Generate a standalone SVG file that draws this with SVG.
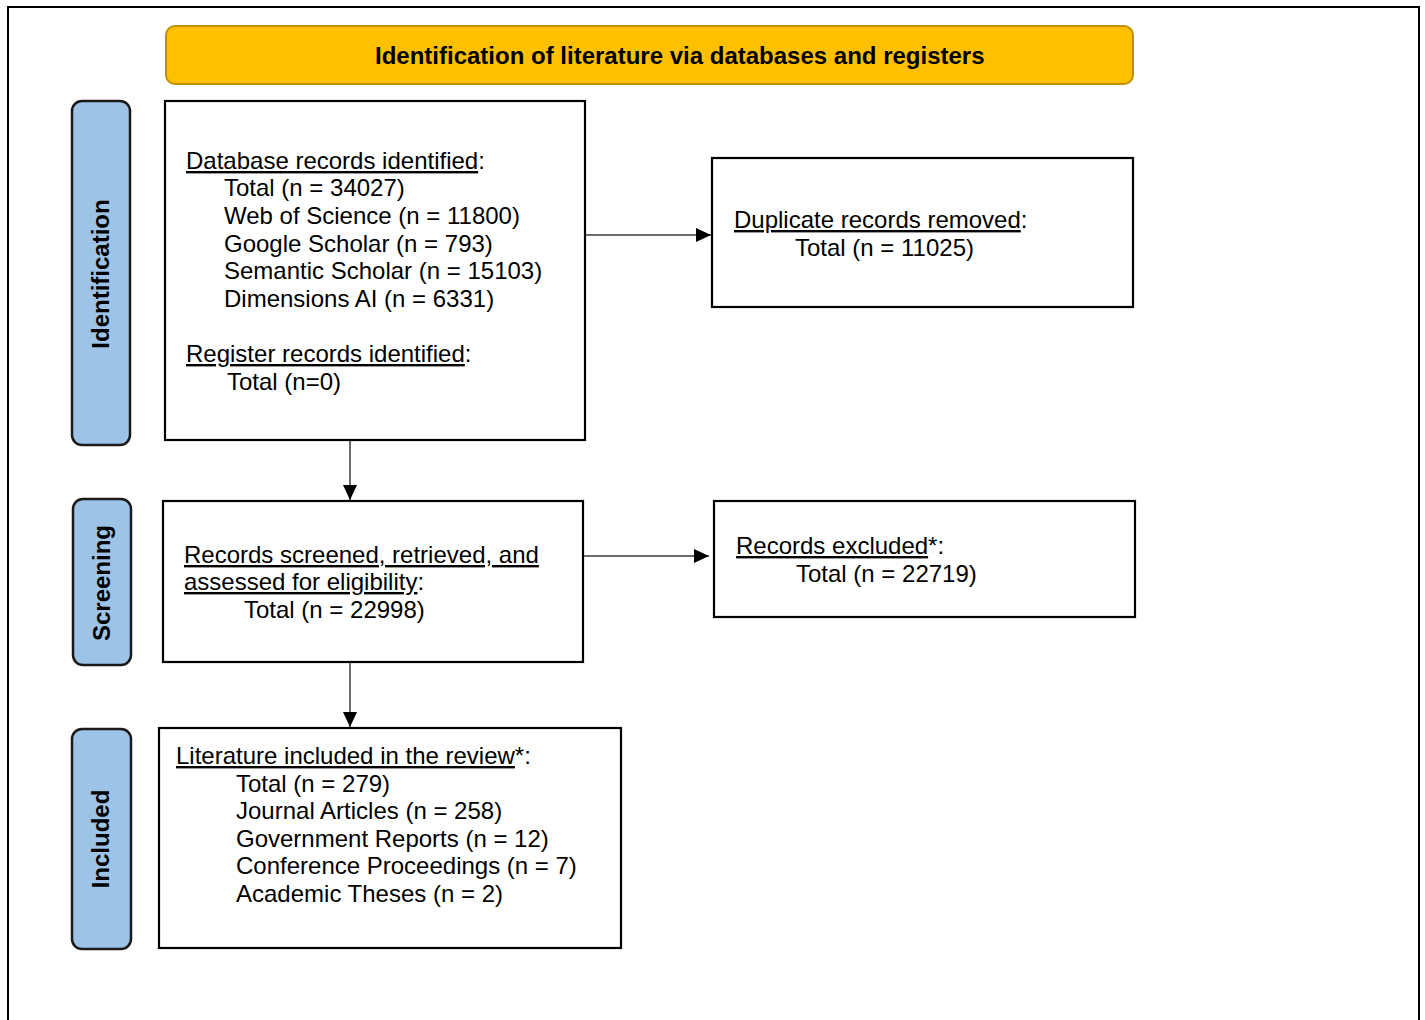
<svg xmlns="http://www.w3.org/2000/svg" width="1425" height="1020" viewBox="0 0 1425 1020">
<defs>
<style>
.t{font-family:"Liberation Sans",Arial,sans-serif;font-size:24px;fill:#000}
.b{font-weight:bold}
.u{text-decoration:underline}
.box{fill:#fff;stroke:#000;stroke-width:2.2}
.lab{fill:#9DC3E6;stroke:#1a1a1a;stroke-width:2.5}
.con{stroke:#3a3a3a;stroke-width:1.5;fill:none;marker-end:url(#ah)}
</style>
<marker id="ah" viewBox="0 0 15 14" refX="15" refY="7" markerWidth="15" markerHeight="14" markerUnits="userSpaceOnUse" orient="auto">
<path d="M0,0 L15,7 L0,14 z" fill="#000"/>
</marker>
</defs>
<rect width="1425" height="1020" fill="#fff"/>
<path d="M8,1030 V7 H1419 V1030" fill="none" stroke="#000" stroke-width="2"/>

<g id="header">
<rect x="166" y="26" width="967" height="58" rx="9" fill="#FFC000" stroke="#BF9000" stroke-width="2"/>
<text class="t b" x="375" y="64">Identification of literature via databases and registers</text>
</g>

<g id="label-identification">
<rect class="lab" x="72" y="101" width="58" height="344" rx="10"/>
<text class="t b" text-anchor="middle" transform="translate(109,274) rotate(-90)">Identification</text>
</g>
<g id="label-screening">
<rect class="lab" x="73" y="499" width="58" height="166" rx="10"/>
<text class="t b" text-anchor="middle" transform="translate(110,583) rotate(-90)">Screening</text>
</g>
<g id="label-included">
<rect class="lab" x="72" y="729" width="59" height="220" rx="10"/>
<text class="t b" text-anchor="middle" transform="translate(109,839) rotate(-90)">Included</text>
</g>

<g id="identified">
<rect class="box" x="165" y="101" width="420" height="339"/>
<text class="t" x="186" y="169"><tspan class="u">Database records identified</tspan>:</text>
<text class="t" x="224" y="196">Total (n = 34027)</text>
<text class="t" x="224" y="224">Web of Science (n = 11800)</text>
<text class="t" x="224" y="252">Google Scholar (n = 793)</text>
<text class="t" x="224" y="279">Semantic Scholar (n = 15103)</text>
<text class="t" x="224" y="307">Dimensions AI (n = 6331)</text>
<text class="t" x="186" y="362"><tspan class="u">Register records identified</tspan>:</text>
<text class="t" x="227" y="390">Total (n=0)</text>
</g>

<g id="duplicates">
<rect class="box" x="712" y="158" width="421" height="149"/>
<text class="t" x="734" y="228"><tspan class="u">Duplicate records removed</tspan>:</text>
<text class="t" x="795" y="256">Total (n = 11025)</text>
</g>

<g id="screened">
<rect class="box" x="163" y="501" width="420" height="161"/>
<text class="t" x="184" y="563"><tspan class="u">Records screened, retrieved, and</tspan></text>
<text class="t" x="184" y="590"><tspan class="u">assessed for eligibility</tspan>:</text>
<text class="t" x="244" y="618">Total (n = 22998)</text>
</g>

<g id="excluded">
<rect class="box" x="714" y="501" width="421" height="116"/>
<text class="t" x="736" y="554"><tspan class="u">Records excluded</tspan>*:</text>
<text class="t" x="796" y="582">Total (n = 22719)</text>
</g>

<g id="included">
<rect class="box" x="159" y="728" width="462" height="220"/>
<text class="t" x="176" y="764"><tspan class="u">Literature included in the review</tspan>*:</text>
<text class="t" x="236" y="792">Total (n = 279)</text>
<text class="t" x="236" y="819">Journal Articles (n = 258)</text>
<text class="t" x="236" y="847">Government Reports (n = 12)</text>
<text class="t" x="236" y="874">Conference Proceedings (n = 7)</text>
<text class="t" x="236" y="902">Academic Theses (n = 2)</text>
</g>

<g id="connectors">
<line class="con" x1="586" y1="235" x2="711" y2="235"/>
<line class="con" x1="350" y1="441" x2="350" y2="500"/>
<line class="con" x1="584" y1="556" x2="709" y2="556"/>
<line class="con" x1="350" y1="663" x2="350" y2="727"/>
</g>
</svg>
